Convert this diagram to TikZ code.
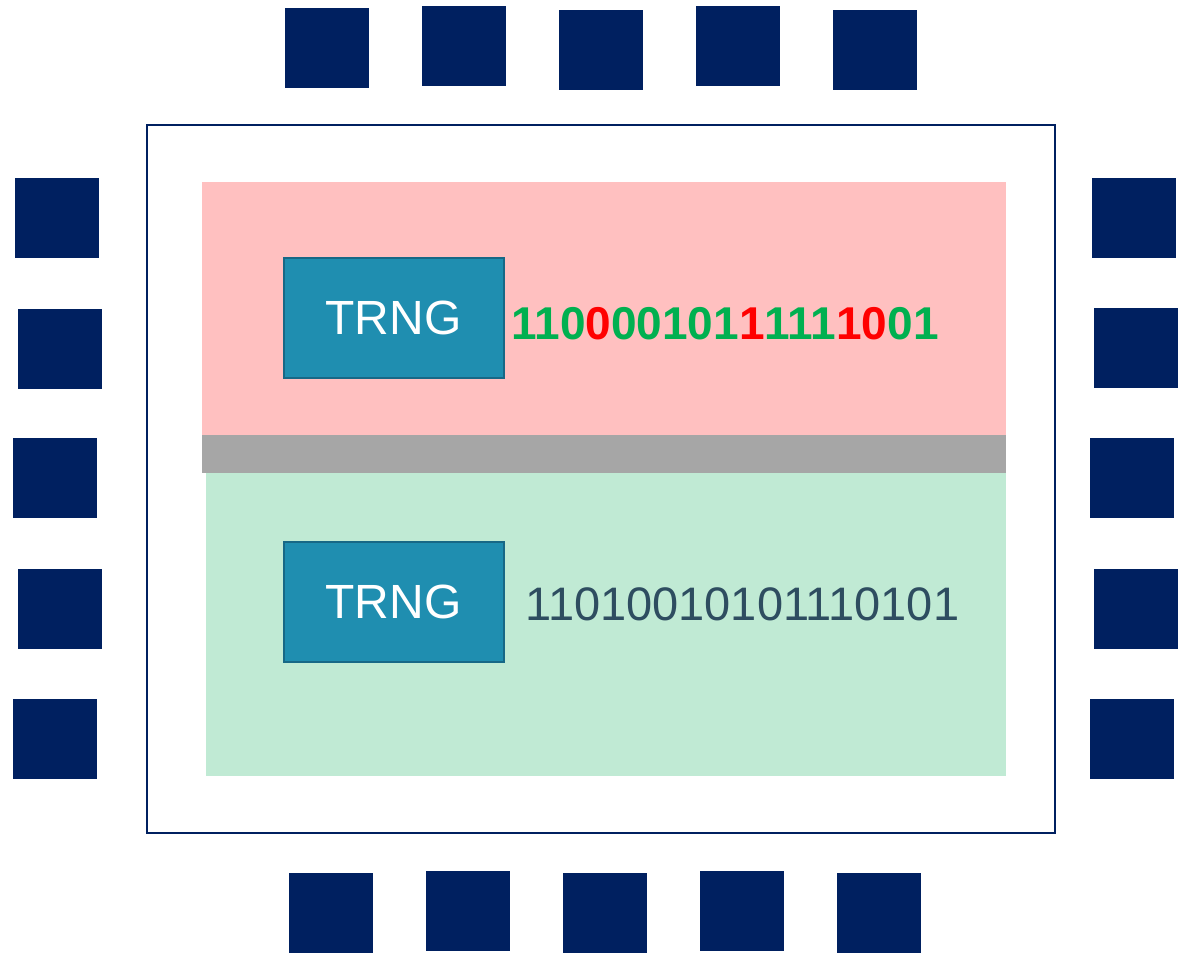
\documentclass[tikz,border=0pt]{standalone}
\usepackage{fontspec}
\setmainfont{Liberation Sans}
\usetikzlibrary{positioning}

\definecolor{padblue}{RGB}{0,32,96}
\definecolor{trngfill}{RGB}{31,142,176}
\definecolor{trngedge}{RGB}{23,104,134}
\definecolor{zonepink}{RGB}{255,192,192}
\definecolor{zonegreen}{RGB}{192,234,212}
\definecolor{zonegray}{RGB}{166,166,166}
\definecolor{bitgood}{RGB}{0,176,80}
\definecolor{bitbad}{RGB}{255,0,0}
\definecolor{bitplain}{RGB}{46,77,96}
\newcommand{\badbit}[1]{\textcolor{bitbad}{#1}}

\begin{document}
\begin{tikzpicture}[
    x=0.5pt, y=-0.5pt,
    pad/.style={fill=padblue},
    trng/.style={draw=trngedge, line width=1pt, fill=trngfill, text=white, minimum width=110pt, minimum height=60pt, inner sep=0pt, font=\fontsize{24}{28}\selectfont},
    bits/.style={anchor=base west, inner sep=0pt, font=\fontsize{23.5}{27}\selectfont}
  ]
  \useasboundingbox (0,0) rectangle (1188,953);

  % chip package with its pins
  \draw[padblue, line width=1.3pt] (147,125) rectangle (1055,833);
  \foreach \x/\y in {285/8, 422/6, 559/10, 696/6, 833/10}
    \fill[pad] (\x,\y) rectangle ++(84,80);
  \foreach \x/\y in {289/873, 426/871, 563/873, 700/871, 837/873}
    \fill[pad] (\x,\y) rectangle ++(84,80);
  \foreach \x/\y in {15/178, 18/309, 13/438, 18/569, 13/699}
    \fill[pad] (\x,\y) rectangle ++(84,80);
  \foreach \x/\y in {1092/178, 1094/308, 1090/438, 1094/569, 1090/699}
    \fill[pad] (\x,\y) rectangle ++(84,80);

  % two zones split by a gap
  \fill[zonepink] (202,182) rectangle (1006,435);
  \fill[zonegray] (202,435) rectangle (1006,473);
  \fill[zonegreen] (206,473) rectangle (1006,776);

  \node[trng] (trngA) at (393.5,317.5) {TRNG};
  \node[trng] (trngB) at (393.5,602) {TRNG};

  \node[bits, text=bitgood, font=\fontsize{23}{27}\selectfont\bfseries] (bitsA) at (511,339)
    {110\badbit{0}00101\badbit{1}111\badbit{1}\badbit{0}01};
  \node[bits, text=bitplain] (bitsB) at (525,620) {11010010101110101};

\end{tikzpicture}
\end{document}
